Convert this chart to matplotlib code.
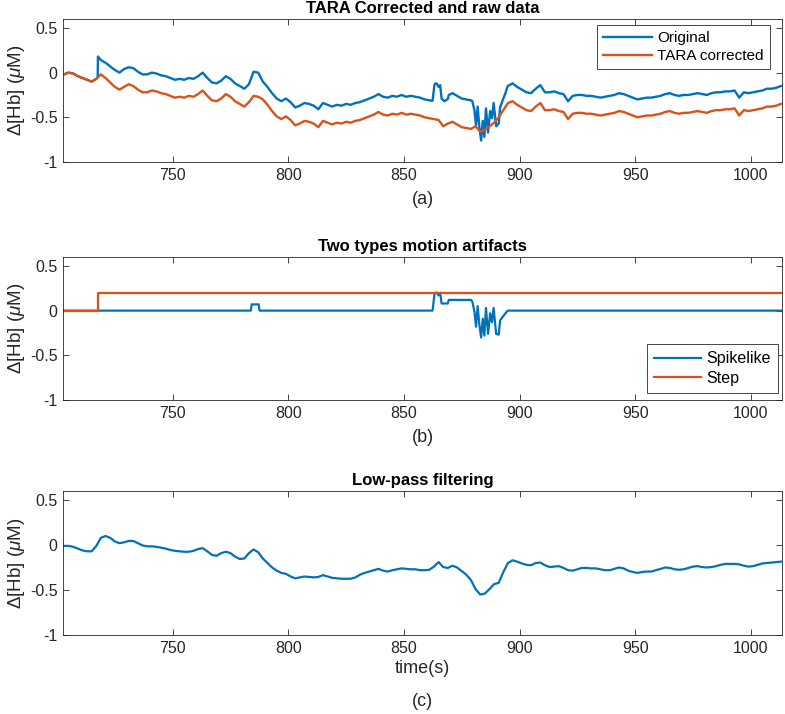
import numpy as np
import matplotlib
matplotlib.use("Agg")
import matplotlib.pyplot as plt

# ---------------- data ----------------
t_grid = np.arange(703, 1014, 2)  # 2-s sample grid, 703..1013

corrected = [
    -0.02, 0.00, -0.01, -0.04, -0.06, -0.08, -0.10, -0.07, -0.02, -0.06,
    -0.11, -0.16, -0.19, -0.16, -0.13, -0.15, -0.19, -0.22, -0.22, -0.20,
    -0.21, -0.23, -0.24, -0.26, -0.28, -0.27, -0.28, -0.26, -0.27, -0.24,
    -0.20, -0.26, -0.31, -0.32, -0.29, -0.24, -0.27, -0.32, -0.35, -0.38,
    -0.33, -0.26, -0.27, -0.30, -0.36, -0.43, -0.49, -0.52, -0.49, -0.53,
    -0.59, -0.57, -0.54, -0.55, -0.57, -0.61, -0.54, -0.56, -0.58, -0.56,
    -0.57, -0.55, -0.56, -0.54, -0.53, -0.51, -0.49, -0.47, -0.44, -0.47,
    -0.48, -0.46, -0.47, -0.45, -0.47, -0.46, -0.47, -0.48, -0.50, -0.51,
    -0.52, -0.53, -0.60, -0.57, -0.55, -0.58, -0.61, -0.62, -0.63, -0.60,
    -0.66, -0.64, -0.60, -0.56, -0.50, -0.42, -0.34, -0.32, -0.36, -0.39,
    -0.42, -0.43, -0.38, -0.34, -0.42, -0.42, -0.41, -0.43, -0.44, -0.52,
    -0.46, -0.45, -0.45, -0.46, -0.46, -0.47, -0.48, -0.47, -0.46, -0.45,
    -0.43, -0.44, -0.46, -0.48, -0.50, -0.49, -0.48, -0.48, -0.47, -0.46,
    -0.44, -0.43, -0.45, -0.46, -0.45, -0.45, -0.44, -0.43, -0.44, -0.45,
    -0.43, -0.42, -0.42, -0.41, -0.41, -0.40, -0.48, -0.42, -0.43, -0.42,
    -0.41, -0.40, -0.38, -0.38, -0.37, -0.35,
]

# original signal: own time base (fine near the jump and the spikes)
t_orig_a = np.arange(703, 718, 2)            # 703..717
t_orig_jump = [717.6, 717.7]
t_orig_b = np.arange(719, 860, 2)            # 719..859
t_orig_fine = [861, 862.4, 863.2, 863.6, 864.3, 865.0, 865.7, 866.3, 867.5, 869.0,
               869.4, 871, 873, 875, 877, 879.0, 879.6, 880.5, 881.2, 881.9,
               882.6, 883.4, 884.1, 884.8, 885.5, 886.4, 887.3, 888.1, 888.8, 889.9,
               891.0, 891.6, 892.7, 893.9, 894.9]
t_orig_c = np.arange(897, 1014, 2)           # 897..1013
t_original = np.concatenate([t_orig_a, t_orig_jump, t_orig_b, t_orig_fine, t_orig_c])

original = [
    -0.02, 0.00, -0.01, -0.04, -0.06, -0.08, -0.10, -0.07,
    -0.05, 0.18,
    0.14, 0.11, 0.07, 0.03, 0.00, 0.04, 0.06, 0.05, 0.01, -0.02,
    -0.02, 0.00, -0.01, -0.03, -0.04, -0.06, -0.08, -0.07, -0.08, -0.06,
    -0.07, -0.04, 0.00, -0.06, -0.11, -0.12, -0.09, -0.04, -0.07, -0.12,
    -0.15, -0.18, -0.13, 0.01, 0.00, -0.10, -0.16, -0.23, -0.29, -0.32,
    -0.29, -0.33, -0.39, -0.37, -0.34, -0.35, -0.37, -0.41, -0.34, -0.36,
    -0.38, -0.36, -0.37, -0.35, -0.36, -0.34, -0.33, -0.31, -0.29, -0.27,
    -0.24, -0.27, -0.28, -0.26, -0.27, -0.25, -0.27, -0.26, -0.27, -0.28,
    -0.30,
    -0.31, -0.315, -0.14, -0.12, -0.125, -0.16, -0.14, -0.29, -0.32, -0.295,
    -0.25, -0.23, -0.26, -0.29, -0.30, -0.31, -0.32, -0.42, -0.59, -0.38,
    -0.60, -0.76, -0.54, -0.72, -0.40, -0.67, -0.43, -0.51, -0.34, -0.60,
    -0.57, -0.39, -0.31, -0.23, -0.15,
    -0.12, -0.16, -0.19,
    -0.22, -0.23, -0.18, -0.14, -0.22, -0.22, -0.21, -0.23, -0.24, -0.32,
    -0.26, -0.25, -0.25, -0.26, -0.26, -0.27, -0.28, -0.27, -0.26, -0.25,
    -0.23, -0.24, -0.26, -0.28, -0.30, -0.29, -0.28, -0.28, -0.27, -0.26,
    -0.24, -0.23, -0.25, -0.26, -0.25, -0.25, -0.24, -0.23, -0.24, -0.25,
    -0.23, -0.22, -0.22, -0.21, -0.21, -0.20, -0.28, -0.22, -0.23, -0.22,
    -0.21, -0.20, -0.18, -0.18, -0.17, -0.15,
]

# motion artifacts
t_step = [703, 717.7, 717.7, 1013.5]
step = [0.0, 0.0, 0.2, 0.2]

t_spike = [703, 783.8, 784.2, 787.2, 787.6, 862.4, 863.2, 863.6, 864.3, 865.0,
           865.7, 866.3, 869.0, 869.4, 879.0, 879.6, 880.5, 881.2, 881.9, 882.6,
           883.4, 884.1, 884.8, 885.5, 886.4, 887.3, 888.1, 888.8, 889.9, 891.0,
           891.6, 892.7, 893.9, 894.9, 1013.5]
spike = [0.0, 0.0, 0.07, 0.07, 0.0, 0.0, 0.18, 0.2, 0.2, 0.17,
         0.2, 0.08, 0.08, 0.12, 0.12, 0.10, -0.01, -0.18, 0.05, -0.15,
         -0.30, -0.09, -0.28, 0.03, -0.26, -0.03, -0.13, 0.03, -0.26, -0.27,
         -0.11, -0.07, -0.03, 0.0, 0.0]

lowpass = [
    -0.01, -0.01, -0.02, -0.04, -0.06, -0.07, -0.07, -0.01, 0.08, 0.10,
    0.08, 0.04, 0.02, 0.03, 0.045, 0.045, 0.02, -0.005, -0.015, -0.015,
    -0.02, -0.03, -0.04, -0.055, -0.065, -0.07, -0.075, -0.075, -0.065, -0.045,
    -0.035, -0.07, -0.11, -0.12, -0.09, -0.075, -0.09, -0.13, -0.155, -0.15,
    -0.09, -0.05, -0.08, -0.15, -0.2, -0.25, -0.285, -0.31, -0.32, -0.35,
    -0.37, -0.36, -0.35, -0.355, -0.36, -0.355, -0.335, -0.35, -0.365, -0.37,
    -0.375, -0.375, -0.375, -0.36, -0.33, -0.31, -0.295, -0.28, -0.265, -0.285,
    -0.295, -0.28, -0.27, -0.26, -0.265, -0.27, -0.27, -0.28, -0.28, -0.275,
    -0.24, -0.19, -0.245, -0.255, -0.23, -0.25, -0.29, -0.33, -0.39, -0.49,
    -0.55, -0.54, -0.49, -0.435, -0.42, -0.3, -0.2, -0.17, -0.185, -0.205,
    -0.22, -0.225, -0.2, -0.195, -0.225, -0.245, -0.24, -0.235, -0.255, -0.28,
    -0.285, -0.27, -0.255, -0.255, -0.26, -0.26, -0.27, -0.28, -0.28, -0.265,
    -0.25, -0.26, -0.285, -0.3, -0.31, -0.3, -0.295, -0.295, -0.28, -0.265,
    -0.25, -0.255, -0.27, -0.275, -0.27, -0.255, -0.24, -0.235, -0.245, -0.25,
    -0.245, -0.235, -0.22, -0.21, -0.21, -0.21, -0.215, -0.23, -0.24, -0.235,
    -0.22, -0.205, -0.2, -0.195, -0.19, -0.185,
]

x_ticks = [750, 800, 850, 900, 950, 1000]
x_tick_labels = ["750", "800", "850", "900", "950", "1000"]
y_ticks = [-1, -0.5, 0, 0.5]
y_tick_labels = ["-1", "-0.5", "0", "0.5"]

titles = ["TARA Corrected and raw data", "Two types motion artifacts", "Low-pass filtering"]
captions = ["(a)", "(b)", "(c)"]
ylabel = r"$\Delta$[Hb] ($\mu$M)"

# ---------------- style ----------------
BLUE = "#0072BD"
ORANGE = "#D95319"
AX = "#262626"
plt.rcParams["font.family"] = ["Liberation Sans", "DejaVu Sans"]
plt.rcParams["mathtext.fontset"] = "custom"
plt.rcParams["mathtext.rm"] = "Liberation Sans"
plt.rcParams["mathtext.it"] = "Liberation Sans:italic"
plt.rcParams["axes.unicode_minus"] = False

W, H = 785, 714
fig = plt.figure(figsize=(W / 100, H / 100), dpi=100)

def px_axes(top, bottom, left=63, right=782):
    return fig.add_axes([left / W, 1 - bottom / H, (right - left) / W, (bottom - top) / H])

ax1 = px_axes(19, 162)
ax2 = px_axes(257, 400)
ax3 = px_axes(491, 635)
axes = [ax1, ax2, ax3]

ax1.plot(t_original, original, color=BLUE, lw=1.7, label="Original")
ax1.plot(t_grid, corrected, color=ORANGE, lw=1.7, label="TARA corrected")

ax2.plot(t_spike, spike, color=BLUE, lw=1.6, label="Spikelike")
ax2.plot(t_step, step, color=ORANGE, lw=1.6, label="Step")

ax3.plot(t_grid, lowpass, color=BLUE, lw=1.6)

for ax, title in zip(axes, titles):
    ax.set_xlim(702.6, 1013.5)
    ax.set_ylim(-1, 0.6)
    ax.set_xticks(x_ticks)
    ax.set_xticklabels(x_tick_labels)
    ax.set_yticks(y_ticks)
    ax.set_yticklabels(y_tick_labels)
    ax.tick_params(direction="in", top=True, right=True, length=4.5, width=0.6,
                   color=AX, labelcolor=AX, labelsize=11.5, pad=4)
    for s in ax.spines.values():
        s.set_color(AX)
        s.set_linewidth(0.6)
    ax.set_title(title, fontsize=12, fontweight="bold", color="black", pad=4)
    ax.set_ylabel(ylabel, fontsize=13.5, color=AX, labelpad=2)

leg_kw = dict(frameon=True, fancybox=False, framealpha=1,
              edgecolor=AX, handletextpad=0.35, borderaxespad=0)
l1 = ax1.legend(loc="upper right", bbox_to_anchor=(1 - 12 / 719, 1 - 6 / 143),
                fontsize=11, handlelength=3.2, borderpad=0.4, labelspacing=0.28, **leg_kw)
l2 = ax2.legend(loc="lower right", bbox_to_anchor=(1 - 4 / 719, 7 / 143),
                fontsize=11.5, handlelength=2.9, borderpad=0.45, labelspacing=0.28, **leg_kw)
for l in (l1, l2):
    l.get_frame().set_linewidth(0.6)

ax3.set_xlabel("time(s)", fontsize=13, color=AX, labelpad=3)

cx = (63 + 782) / 2 / W
for cap, ypx in zip(captions, [200, 437, 701]):
    fig.text(cx, 1 - ypx / H, cap, ha="center", va="center", fontsize=13, color=AX)

fig.savefig("out.png", dpi=100)
